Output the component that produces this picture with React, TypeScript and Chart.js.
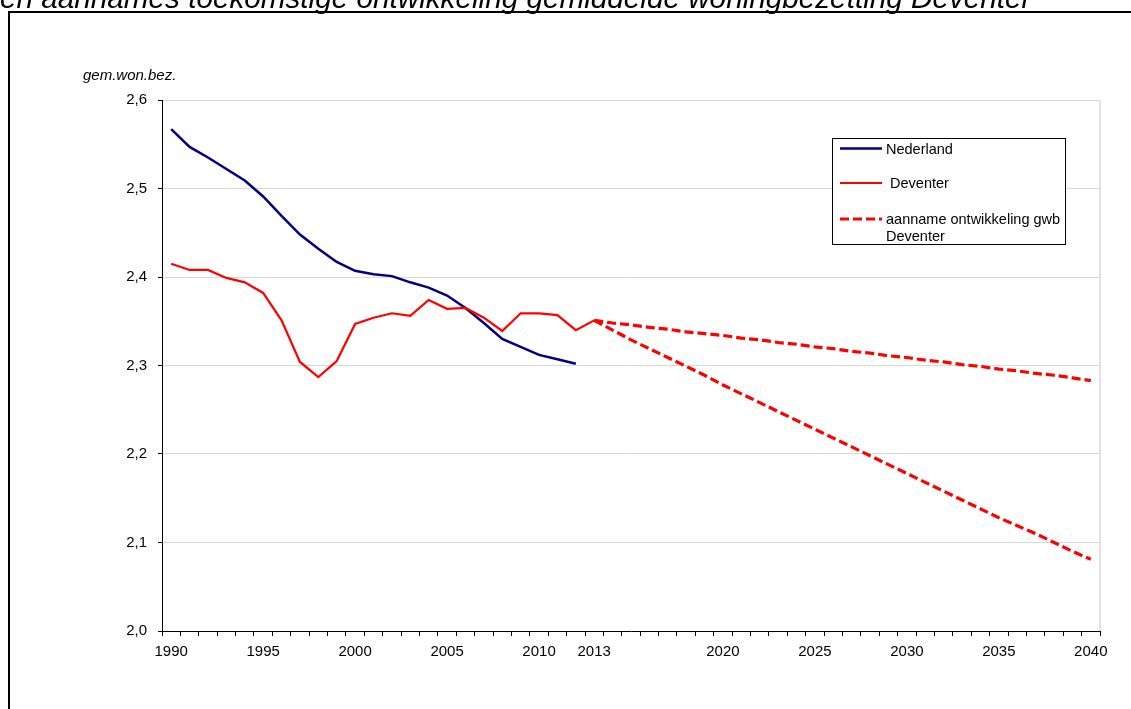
import React, { useEffect, useRef } from 'react';
import { Chart, registerables } from 'chart.js';

Chart.register(...registerables);

const FONT = '"Liberation Sans", Arial, Helvetica, sans-serif';

const chartTitle = 'en aannames toekomstige ontwikkeling gemiddelde woningbezetting Deventer';
const yAxisTitle = 'gem.won.bez.';

const years = [
  '1990', '1991', '1992', '1993', '1994', '1995', '1996', '1997', '1998', '1999',
  '2000', '2001', '2002', '2003', '2004', '2005', '2006', '2007', '2008', '2009',
  '2010', '2011', '2012', '2013', '2014', '2015', '2016', '2017', '2018', '2019',
  '2020', '2021', '2022', '2023', '2024', '2025', '2026', '2027', '2028', '2029',
  '2030', '2031', '2032', '2033', '2034', '2035', '2036', '2037', '2038', '2039',
  '2040',
];

const xTickLabels = ['1990', '1995', '2000', '2005', '2010', '2013', '2020', '2025', '2030', '2035', '2040'];

// Nederland 1990-2012
const nederland = [
  2.567, 2.547, 2.535, 2.522, 2.509, 2.491, 2.469, 2.448, 2.432, 2.417,
  2.407, 2.403, 2.401, 2.394, 2.388, 2.379, 2.365, 2.348, 2.330, 2.321,
  2.312, 2.307, 2.302,
];

// Deventer 1990-2013
const deventer = [
  2.415, 2.408, 2.408, 2.399, 2.394, 2.382, 2.351, 2.304, 2.287, 2.305,
  2.347, 2.354, 2.359, 2.356, 2.374, 2.364, 2.365, 2.354, 2.339, 2.359,
  2.359, 2.357, 2.340, 2.351,
];

// Aanname ontwikkeling gwb Deventer 2013-2040 (hoog)
const aannameHoog = [
  2.351, 2.348, 2.346, 2.343, 2.341, 2.338, 2.336, 2.334, 2.331, 2.329,
  2.326, 2.324, 2.321, 2.319, 2.316, 2.314, 2.311, 2.309, 2.306, 2.304,
  2.301, 2.299, 2.296, 2.294, 2.291, 2.289, 2.286, 2.283,
];

// Aanname ontwikkeling gwb Deventer 2013-2040 (laag)
const aannameLaag = [
  2.351, 2.340, 2.329, 2.319, 2.309, 2.299, 2.289, 2.278, 2.268, 2.258,
  2.248, 2.238, 2.228, 2.218, 2.208, 2.198, 2.188, 2.178, 2.168, 2.158,
  2.148, 2.138, 2.128, 2.119, 2.110, 2.100, 2.090, 2.081,
];

const projectionStart = '2013';

const NAVY = '#000080';
const RED = '#FF0000';

function alignFromStart(values: number[], startYear: string): (number | null)[] {
  const start = years.indexOf(startYear);
  return years.map((_, i) => (i >= start && i - start < values.length ? values[i - start] : null));
}

const decorPlugin = {
  id: 'decor',
  beforeDraw(chart: any) {
    const ctx = chart.ctx;
    ctx.save();
    ctx.fillStyle = '#ffffff';
    ctx.fillRect(0, 0, chart.width, chart.height);
    ctx.restore();
  },
  beforeDatasetsDraw(chart: any) {
    const { ctx, chartArea } = chart;
    ctx.save();
    ctx.strokeStyle = '#d9d9d9';
    ctx.lineWidth = 1.5;
    ctx.beginPath();
    ctx.moveTo(chartArea.right, chartArea.top);
    ctx.lineTo(chartArea.right, chartArea.bottom);
    ctx.stroke();
    ctx.restore();
  },
  afterDraw(chart: any) {
    const { ctx } = chart;
    ctx.save();
    // title (partially cut at the top of the picture)
    ctx.fillStyle = '#000';
    ctx.font = `italic 29.7px ${FONT}`;
    ctx.textAlign = 'left';
    ctx.textBaseline = 'alphabetic';
    ctx.fillText(chartTitle, 0, 7.5);

    // outer frame
    ctx.strokeStyle = '#000';
    ctx.lineWidth = 2;
    ctx.strokeRect(9, 12, chart.width + 40, chart.height + 40);

    // y axis title
    ctx.font = `italic 15px ${FONT}`;
    ctx.textBaseline = 'middle';
    ctx.fillText(yAxisTitle, 83, 76);

    // legend box
    const boxX = 832.5;
    const boxY = 138.5;
    const boxW = 233;
    const boxH = 106;
    ctx.fillStyle = '#fff';
    ctx.fillRect(boxX, boxY, boxW, boxH);
    ctx.strokeStyle = '#000';
    ctx.lineWidth = 1;
    ctx.strokeRect(boxX, boxY, boxW, boxH);

    const rowsY = [148.5, 183, 219];
    const legendSets = chart.data.datasets.filter((d: any) => d.showInLegend);
    legendSets.forEach((d: any, i: number) => {
      const y = rowsY[i];
      ctx.beginPath();
      ctx.strokeStyle = d.borderColor;
      ctx.lineWidth = d.borderWidth;
      ctx.setLineDash(d.borderDash || []);
      ctx.moveTo(840, y);
      ctx.lineTo(882, y);
      ctx.stroke();
      ctx.setLineDash([]);
      ctx.fillStyle = '#000';
      ctx.font = `14.5px ${FONT}`;
      ctx.textBaseline = 'middle';
      const lines = String(d.label).split('\n');
      lines.forEach((ln: string, j: number) => {
        ctx.fillText(ln, 886, y + 1 + j * 17);
      });
    });
    ctx.restore();
  },
};

export default function App() {
  const canvasRef = useRef<HTMLCanvasElement | null>(null);

  useEffect(() => {
    const canvas = canvasRef.current;
    if (!canvas) return;
    const chart = new Chart(canvas, {
      type: 'line',
      data: {
        labels: years,
        datasets: [
          {
            label: 'Nederland',
            data: alignFromStart(nederland, '1990'),
            borderColor: NAVY,
            backgroundColor: NAVY,
            borderWidth: 2.5,
            pointRadius: 0,
            tension: 0,
            order: 3,
            showInLegend: true,
          } as any,
          {
            label: ' Deventer',
            data: alignFromStart(deventer, '1990'),
            borderColor: RED,
            backgroundColor: RED,
            borderWidth: 2.2,
            pointRadius: 0,
            tension: 0,
            order: 1,
            showInLegend: true,
          } as any,
          {
            label: 'aanname ontwikkeling gwb\nDeventer',
            data: alignFromStart(aannameHoog, projectionStart),
            borderColor: RED,
            backgroundColor: RED,
            borderWidth: 3.2,
            borderDash: [9, 4],
            pointRadius: 0,
            tension: 0,
            order: 2,
            showInLegend: true,
          } as any,
          {
            label: 'aanname ontwikkeling gwb Deventer (laag)',
            data: alignFromStart(aannameLaag, projectionStart),
            borderColor: RED,
            backgroundColor: RED,
            borderWidth: 3.2,
            borderDash: [9, 4],
            pointRadius: 0,
            tension: 0,
            order: 2,
            showInLegend: false,
          } as any,
        ],
      },
      options: {
        responsive: false,
        animation: false,
        maintainAspectRatio: false,
        spanGaps: false,
        layout: { padding: { left: 0, top: 100, right: 31, bottom: 0 } },
        plugins: {
          legend: { display: false },
          title: { display: false },
          tooltip: { enabled: false },
        },
        scales: {
          x: {
            type: 'category',
            offset: true,
            grid: {
              display: true,
              drawOnChartArea: false,
              drawTicks: true,
              tickLength: 5,
              offset: true,
              color: '#000',
            },
            border: { display: true, color: '#000', width: 1 },
            ticks: {
              autoSkip: false,
              maxRotation: 0,
              minRotation: 0,
              padding: 7,
              color: '#000',
              font: { family: FONT, size: 15 },
              callback: (_v: any, i: number) => (xTickLabels.includes(years[i]) ? years[i] : ''),
            },
            afterFit: (scale: any) => {
              scale.height = 78;
            },
          },
          y: {
            min: 2.0,
            max: 2.6,
            grid: {
              color: '#d9d9d9',
              lineWidth: 1,
              drawTicks: true,
              tickLength: 4,
              tickColor: '#000',
            },
            border: { display: true, color: '#000', width: 1 },
            ticks: {
              stepSize: 0.1,
              padding: 11,
              color: '#000',
              font: { family: FONT, size: 15 },
              callback: (v: any) => Number(v).toFixed(1).replace('.', ','),
            },
            afterFit: (scale: any) => {
              scale.width = 162;
            },
          },
        },
      },
      plugins: [decorPlugin],
    } as any);
    return () => chart.destroy();
  }, []);

  return (
    <div style={{ position: 'fixed', left: 0, top: 0, width: 1131, height: 709, overflow: 'hidden', background: '#fff' }}>
      <canvas ref={canvasRef} width={1131} height={709} style={{ display: 'block', width: 1131, height: 709 }} />
    </div>
  );
}
